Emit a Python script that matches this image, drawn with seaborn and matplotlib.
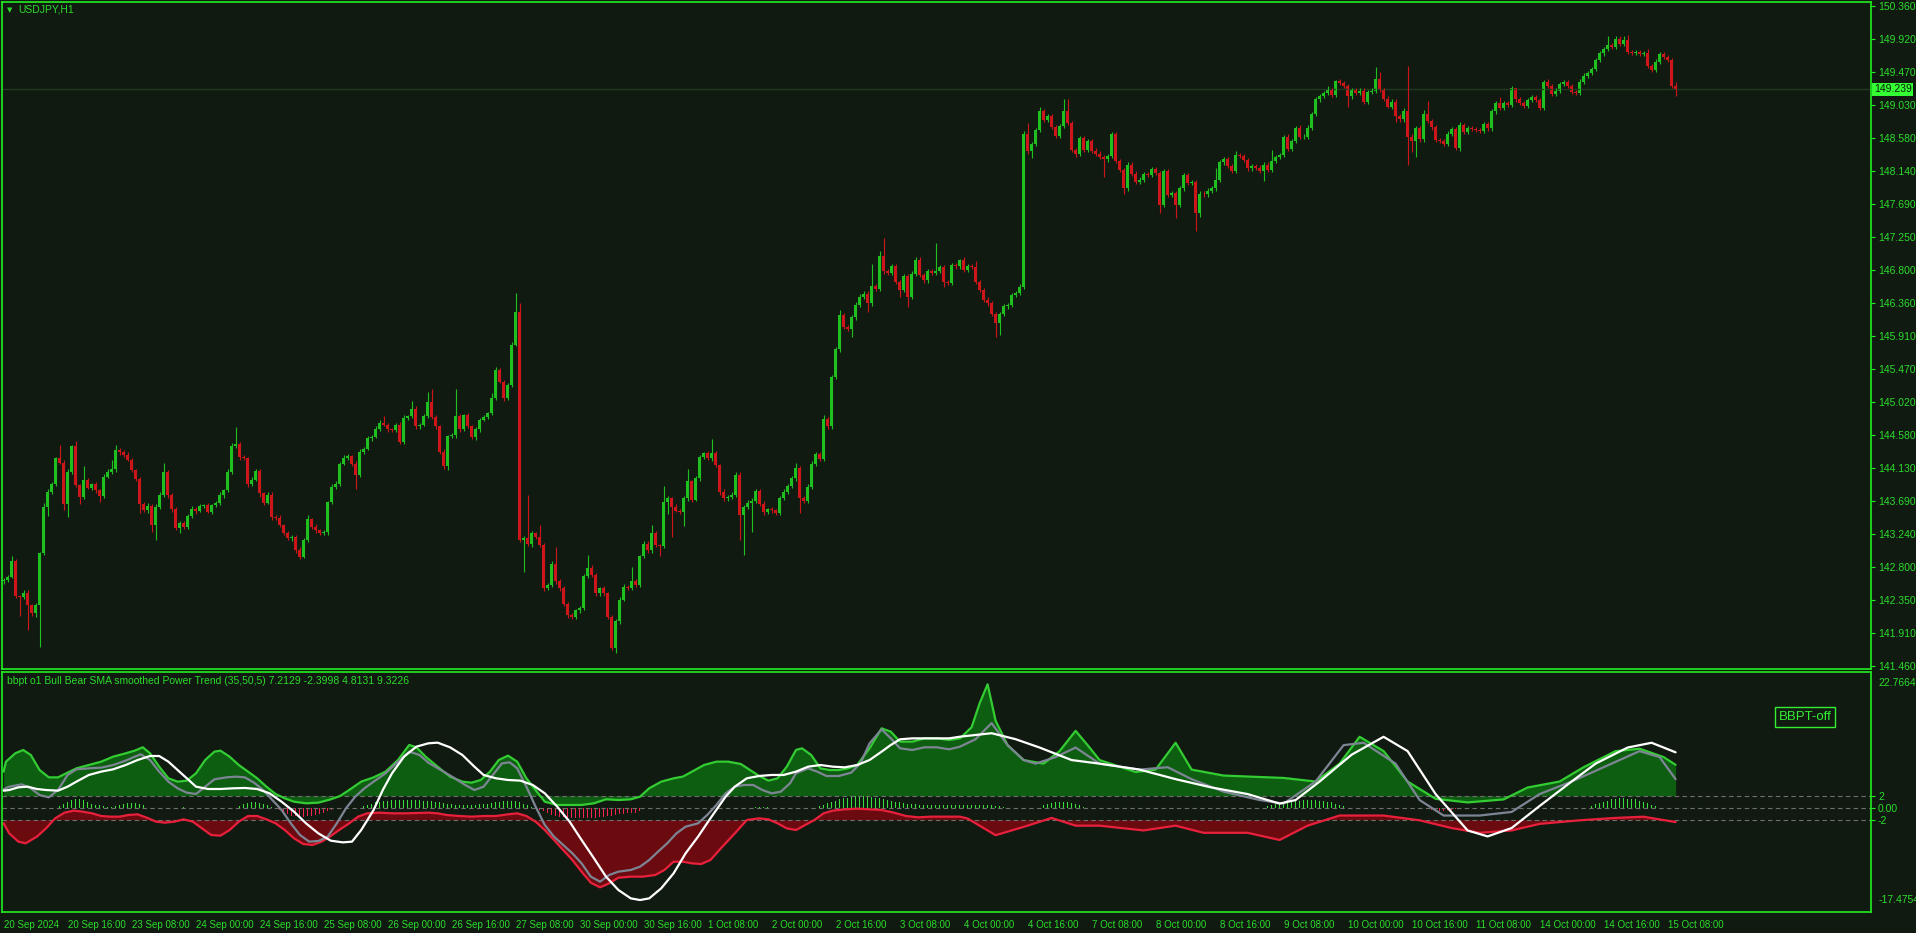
import numpy as np
import pandas as pd
import matplotlib
matplotlib.use("Agg")
import matplotlib.pyplot as plt
import matplotlib.transforms as mtrans
import seaborn as sns

# USDJPY H1 closes, one per bar from 20 Sep 00:00 to 15 Oct 10:00
open0 = 142.60
close = [
    142.62, 142.66, 142.87, 142.40, 142.39, 142.45, 142.28, 142.17, 142.28, 142.98,
    143.61, 143.81, 143.92, 144.26, 144.20, 143.65, 144.08, 144.42, 143.90, 143.74,
    143.97, 143.86, 143.91, 143.83, 143.75, 144.01, 144.08, 144.11, 144.37, 144.35,
    144.31, 144.24, 144.10, 143.98, 143.65, 143.56, 143.62, 143.36, 143.61, 143.77,
    144.07, 143.77, 143.57, 143.32, 143.39, 143.34, 143.48, 143.58, 143.55, 143.62,
    143.63, 143.54, 143.63, 143.66, 143.77, 143.83, 144.08, 144.42, 144.45, 144.28,
    144.26, 143.92, 143.97, 144.09, 143.79, 143.66, 143.77, 143.47, 143.46, 143.36,
    143.25, 143.18, 143.20, 143.03, 142.93, 143.16, 143.44, 143.34, 143.29, 143.25,
    143.26, 143.67, 143.88, 143.92, 144.19, 144.27, 144.29, 144.19, 144.04, 144.35,
    144.39, 144.53, 144.55, 144.66, 144.74, 144.71, 144.65, 144.64, 144.71, 144.48,
    144.81, 144.83, 144.93, 144.69, 144.71, 144.83, 145.02, 144.82, 144.69, 144.35,
    144.15, 144.56, 144.57, 144.83, 144.66, 144.84, 144.69, 144.55, 144.65, 144.78,
    144.82, 144.87, 145.07, 145.45, 145.29, 145.07, 145.25, 145.79, 146.24, 143.16,
    143.18, 143.11, 143.25, 143.20, 143.09, 142.51, 142.55, 142.84, 142.60, 142.51,
    142.30, 142.15, 142.12, 142.21, 142.24, 142.67, 142.78, 142.69, 142.44, 142.51,
    142.44, 142.12, 141.70, 142.06, 142.35, 142.53, 142.51, 142.60, 142.55, 142.94,
    143.11, 143.02, 143.25, 143.09, 143.08, 143.67, 143.72, 143.61, 143.55, 143.54,
    143.72, 143.95, 143.70, 143.99, 144.28, 144.33, 144.26, 144.33, 144.17, 143.81,
    143.72, 143.74, 143.77, 144.04, 143.50, 143.61, 143.66, 143.69, 143.82, 143.65,
    143.54, 143.57, 143.56, 143.52, 143.72, 143.81, 143.89, 143.99, 144.13, 143.72,
    143.69, 143.88, 144.18, 144.32, 144.25, 144.79, 144.69, 145.36, 145.73, 146.19,
    146.03, 146.01, 146.16, 146.33, 146.44, 146.48, 146.35, 146.58, 146.55, 146.99,
    146.78, 146.76, 146.85, 146.64, 146.53, 146.72, 146.44, 146.75, 146.93, 146.73,
    146.66, 146.78, 146.76, 146.79, 146.84, 146.64, 146.63, 146.87, 146.85, 146.94,
    146.80, 146.85, 146.84, 146.64, 146.53, 146.40, 146.35, 146.21, 146.08, 146.21,
    146.31, 146.33, 146.46, 146.49, 146.57, 148.63, 148.40, 148.50, 148.69, 148.94,
    148.82, 148.87, 148.73, 148.61, 148.74, 148.94, 148.78, 148.42, 148.37, 148.58,
    148.42, 148.54, 148.41, 148.37, 148.32, 148.29, 148.34, 148.63, 148.27, 148.15,
    147.90, 148.22, 148.10, 147.99, 148.02, 148.09, 148.08, 148.16, 148.11, 147.68,
    148.13, 147.81, 147.84, 147.68, 147.90, 148.08, 147.97, 147.99, 147.57, 147.83,
    147.82, 147.87, 147.90, 148.02, 148.25, 148.30, 148.20, 148.14, 148.35, 148.34,
    148.28, 148.17, 148.20, 148.18, 148.13, 148.22, 148.15, 148.27, 148.32, 148.35,
    148.60, 148.43, 148.54, 148.71, 148.59, 148.60, 148.72, 148.90, 149.10, 149.15,
    149.19, 149.23, 149.16, 149.35, 149.32, 149.28, 149.14, 149.23, 149.19, 149.22,
    149.07, 149.20, 149.22, 149.38, 149.23, 149.11, 149.00, 149.07, 148.87, 148.83,
    148.95, 148.60, 148.54, 148.71, 148.56, 148.91, 148.81, 148.73, 148.55, 148.54,
    148.50, 148.64, 148.70, 148.44, 148.75, 148.66, 148.71, 148.70, 148.69, 148.68,
    148.77, 148.71, 148.94, 149.05, 148.99, 149.05, 149.03, 149.25, 149.10, 149.05,
    149.01, 149.09, 149.13, 149.09, 148.99, 149.34, 149.28, 149.18, 149.22, 149.31,
    149.33, 149.28, 149.20, 149.19, 149.34, 149.42, 149.46, 149.51, 149.63, 149.72,
    149.78, 149.83, 149.81, 149.92, 149.85, 149.90, 149.74, 149.73, 149.74, 149.71,
    149.72, 149.55, 149.50, 149.61, 149.71, 149.67, 149.63, 149.28, 149.239,
]
# wick lengths above / below the body, in pips (0.01)
wick_up = [
    3, 2, 7, 3, 2, 3, 4, 2, 3, 2, 5, 3, 2, 2, 18, 4, 3, 2, 7, 2,
    18, 3, 2, 3, 2, 4, 3, 13, 7, 3, 2, 3, 3, 2, 3, 2, 4, 3, 4, 3,
    13, 3, 2, 4, 3, 2, 3, 4, 2, 3, 2, 3, 2, 3, 4, 2, 3, 5, 23, 3,
    3, 2, 4, 3, 3, 2, 3, 4, 2, 3, 2, 3, 3, 2, 4, 3, 5, 2, 3, 2,
    3, 2, 3, 3, 2, 4, 3, 2, 3, 4, 2, 3, 2, 3, 4, 9, 3, 2, 3, 4,
    3, 2, 10, 3, 2, 3, 13, 17, 3, 2, 3, 2, 3, 37, 3, 2, 3, 2, 3, 2,
    3, 2, 7, 4, 3, 2, 3, 4, 25, 11, 3, 58, 3, 2, 16, 3, 3, 4, 22, 3,
    3, 2, 3, 2, 3, 3, 17, 4, 3, 2, 3, 2, 3, 3, 4, 3, 2, 20, 3, 2,
    3, 3, 11, 3, 2, 22, 3, 2, 3, 2, 3, 17, 2, 3, 3, 2, 3, 19, 3, 2,
    3, 2, 3, 3, 3, 2, 4, 3, 3, 3, 3, 2, 3, 2, 3, 3, 2, 3, 7, 3,
    3, 3, 4, 3, 2, 6, 3, 3, 3, 7, 3, 3, 3, 4, 3, 3, 3, 30, 3, 6,
    24, 3, 3, 3, 3, 3, 3, 3, 4, 4, 3, 3, 3, 38, 3, 3, 3, 3, 3, 1,
    3, 3, 3, 8, 3, 3, 3, 3, 3, 3, 3, 3, 3, 3, 4, 4, 15, 3, 3, 6,
    3, 3, 4, 3, 3, 17, 17, 3, 3, 3, 3, 3, 3, 3, 3, 3, 3, 3, 3, 3,
    3, 3, 3, 3, 3, 3, 3, 3, 3, 3, 3, 3, 3, 3, 3, 3, 3, 3, 3, 3,
    3, 3, 3, 15, 3, 3, 3, 3, 6, 3, 3, 3, 3, 3, 3, 3, 3, 15, 3, 3,
    2, 3, 3, 3, 5, 3, 3, 3, 3, 3, 3, 5, 3, 1, 3, 3, 3, 3, 3, 3,
    3, 3, 3, 16, 9, 3, 3, 3, 3, 3, 3, 60, 3, 3, 3, 5, 17, 3, 3, 3,
    3, 3, 3, 3, 4, 3, 3, 3, 3, 3, 3, 3, 3, 3, 8, 3, 3, 3, 1, 3,
    3, 3, 3, 3, 3, 2, 3, 3, 3, 3, 3, 3, 3, 3, 3, 3, 3, 3, 3, 3,
    3, 12, 3, 4, 3, 5, 7, 3, 3, 3, 3, 6, 3, 3, 3, 3, 3, 3, 5,
]
wick_dn = [
    4, 3, 2, 3, 26, 3, 34, 3, 5, 56, 3, 13, 3, 3, 2, 9, 18, 3, 3, 9,
    3, 2, 3, 4, 8, 3, 2, 3, 3, 4, 3, 2, 3, 3, 13, 3, 4, 9, 20, 3,
    3, 4, 3, 3, 7, 3, 3, 2, 4, 2, 3, 2, 3, 2, 3, 4, 2, 3, 2, 4,
    2, 4, 3, 2, 5, 3, 2, 4, 3, 3, 3, 2, 3, 4, 3, 2, 3, 3, 4, 2,
    2, 3, 2, 3, 3, 2, 3, 4, 19, 3, 3, 2, 3, 2, 3, 2, 3, 3, 2, 3,
    2, 3, 3, 4, 3, 2, 3, 3, 4, 3, 3, 5, 2, 3, 4, 3, 2, 3, 4, 3,
    2, 3, 3, 3, 2, 4, 3, 3, 2, 3, 43, 3, 4, 3, 3, 4, 3, 2, 3, 4,
    3, 4, 3, 2, 3, 3, 2, 3, 4, 3, 3, 3, 3, 7, 3, 2, 3, 3, 2, 3,
    3, 3, 3, 3, 14, 3, 16, 41, 2, 3, 19, 3, 3, 2, 3, 3, 2, 3, 3, 4,
    3, 4, 3, 3, 34, 54, 3, 40, 3, 3, 5, 3, 4, 3, 3, 2, 3, 3, 3, 20,
    3, 3, 3, 3, 3, 3, 3, 3, 3, 3, 3, 3, 11, 3, 3, 3, 11, 3, 3, 3,
    3, 3, 3, 3, 9, 3, 14, 3, 3, 3, 3, 3, 3, 3, 3, 7, 3, 3, 3, 3,
    3, 3, 3, 3, 3, 3, 3, 3, 18, 16, 3, 3, 3, 3, 3, 3, 3, 9, 3, 3,
    3, 3, 3, 3, 3, 3, 3, 3, 4, 3, 3, 3, 3, 3, 3, 23, 3, 3, 3, 3,
    7, 3, 3, 3, 3, 3, 3, 3, 3, 11, 3, 3, 3, 18, 3, 3, 3, 3, 24, 5,
    3, 3, 3, 3, 3, 3, 3, 3, 3, 3, 3, 3, 3, 3, 2, 13, 3, 3, 3, 3,
    3, 3, 3, 3, 3, 3, 3, 3, 3, 3, 3, 3, 3, 3, 3, 3, 14, 3, 3, 3,
    3, 3, 3, 3, 3, 3, 1, 3, 8, 3, 3, 38, 15, 21, 3, 3, 3, 4, 3, 3,
    3, 3, 3, 2, 4, 3, 3, 3, 3, 3, 3, 3, 3, 3, 3, 3, 3, 3, 3, 3,
    3, 3, 3, 3, 3, 3, 3, 3, 3, 3, 3, 3, 3, 3, 3, 3, 3, 3, 3, 3,
    3, 3, 3, 3, 3, 3, 3, 3, 3, 3, 3, 3, 3, 3, 3, 3, 3, 3, 9,
]

# indicator buffers: (bar index, value)
bull_pts = [(0, 6.06), (0.6, 7.73), (2.9, 9.13), (4.9, 9.69), (6.8, 8.85), (9.0, 6.33), (11.3, 5.10),
            (13.6, 5.10), (16.0, 5.89), (18.2, 6.61), (21.3, 7.17), (24.4, 7.73), (27.4, 8.57),
            (30.5, 9.13), (32.8, 9.58), (34.8, 10.14), (36.6, 9.13), (38.9, 6.89), (41.2, 4.94),
            (43.5, 4.38), (45.8, 4.55), (48.1, 5.78), (50.4, 8.01), (52.7, 9.41), (54.2, 9.58),
            (56.5, 8.57), (58.8, 7.17), (61.1, 6.06), (63.4, 4.94), (65.7, 3.54), (68.0, 2.31),
            (70.3, 1.58), (72.6, 1.02), (75.6, 0.75), (78.7, 0.86), (81.8, 1.42), (84.1, 1.97),
            (86.4, 2.98), (89.4, 4.38), (92.5, 5.10), (95.5, 6.06), (98.6, 8.01), (101.4, 10.53),
            (103.2, 10.14), (105.5, 8.57), (108.5, 6.89), (111.6, 5.22), (114.7, 4.38), (117.0, 4.21),
            (119.3, 4.66), (121.6, 6.06), (123.8, 8.01), (126.1, 8.74), (128.4, 7.73), (130.7, 4.94),
            (133.0, 2.98), (135.3, 1.02), (138.4, 0.47), (144.5, 0.47), (147.6, 0.75), (150.6, 1.42),
            (153.7, 1.30), (156.8, 1.42), (159.1, 1.86), (161.4, 3.26), (164.4, 4.38), (167.5, 4.94),
            (169.8, 5.22), (172.1, 6.06), (175.1, 7.17), (178.2, 7.73), (181.2, 7.73), (184.3, 7.34),
            (186.6, 6.33), (188.9, 5.33), (191.2, 4.55), (193.5, 4.94), (195.8, 6.89), (198.1, 9.69),
            (199.6, 9.97), (201.9, 8.85), (204.2, 6.61), (206.5, 6.33), (208.8, 6.33), (211.1, 6.61),
            (213.4, 7.17), (216.5, 9.97), (219.5, 13.32), (221.8, 12.76), (224.1, 11.09), (227.2, 11.09),
            (230.2, 11.64), (233.3, 11.64), (236.4, 11.37), (239.1, 11.64), (242, 13.5), (244, 17.5),
            (246, 20.7), (248, 14.6), (251, 10.5), (255, 8.0), (260, 7.4), (264, 9.5), (268, 12.9),
            (271, 10.5), (274, 8.0), (283, 6.0), (288, 6.4), (293, 10.9), (297, 6.4), (305, 5.4),
            (320, 5.0), (328, 4.4), (334, 7.4), (339, 11.9), (345, 9.5), (351, 4.4), (358, 1.5),
            (366, 0.9), (375, 1.4), (381, 3.4), (389, 4.4), (395, 6.8), (403, 9.5), (409, 9.9),
            (415, 8.5), (418, 7.2)]
bear_pts = [(0, -2.61), (1.4, -4.29), (3.7, -5.68), (5.5, -5.96), (8.3, -4.85), (10.6, -3.45),
            (12.9, -1.77), (15.2, -0.82), (17.5, -0.48), (19.8, -0.65), (22.1, -0.93), (24.4, -1.38),
            (26.7, -1.49), (29.0, -1.49), (31.2, -1.21), (33.5, -1.10), (35.8, -1.66), (38.1, -2.33),
            (40.4, -2.50), (42.7, -2.33), (45.0, -1.94), (47.3, -2.33), (49.6, -3.45), (51.9, -4.57),
            (54.2, -4.68), (56.5, -3.73), (58.8, -2.33), (61.1, -1.38), (63.4, -1.38), (65.7, -1.94),
            (68.0, -2.61), (70.3, -3.73), (72.6, -5.12), (74.9, -6.07), (77.2, -6.24), (79.5, -5.68),
            (81.8, -4.73), (84.1, -3.62), (86.4, -2.61), (88.6, -1.49), (90.9, -0.93), (94.0, -0.82),
            (97.1, -0.93), (100.1, -0.93), (103.2, -0.88), (106.2, -0.82), (108.5, -0.93),
            (110.8, -1.21), (113.9, -1.38), (117.0, -1.49), (120.0, -1.38), (123.1, -1.38),
            (126.1, -1.10), (128.4, -0.93), (130.7, -1.38), (133.0, -2.33), (135.3, -3.73),
            (137.6, -5.40), (139.9, -7.08), (142.2, -8.76), (144.5, -10.71), (146.8, -12.56),
            (149.1, -13.34), (151.4, -12.67), (153.7, -11.72), (156.8, -11.55), (159.8, -11.55),
            (162.9, -11.27), (165.2, -10.43), (167.5, -9.04), (169.8, -9.04), (172.1, -9.32),
            (174.4, -9.43), (176.7, -8.76), (179.7, -6.52), (182.8, -4.29), (185.8, -2.05),
            (188.9, -1.77), (191.2, -1.94), (193.5, -2.61), (195.8, -3.45), (198.1, -3.73),
            (200.4, -2.89), (202.7, -2.05), (205.0, -0.93), (207.3, -0.48), (210.3, -0.26),
            (213.4, -0.15), (216.5, -0.26), (219.5, -0.37), (222.6, -0.82), (225.6, -1.38),
            (228.7, -1.60), (231.8, -1.49), (234.8, -1.49), (239.1, -1.49), (241, -1.8), (248, -4.6),
            (256, -3.0), (262, -1.7), (268, -3.0), (274, -3.0), (285, -3.8), (293, -3.0), (300, -4.2),
            (311, -4.2), (319, -5.4), (326, -3.0), (334, -1.3), (345, -1.3), (354, -2.1), (362, -3.4),
            (369, -4.2), (377, -3.8), (384, -2.7), (394, -2.1), (403, -1.7), (410, -1.5), (418, -2.4)]
white_pts = [(0, 2.87), (1.4, 2.98), (3.7, 3.43), (6.0, 3.54), (8.3, 3.15), (10.6, 2.98), (13.6, 2.87),
             (16.0, 3.54), (18.2, 4.38), (21.3, 5.50), (24.4, 6.06), (27.4, 6.45), (30.5, 7.17),
             (33.5, 8.01), (36.6, 8.68), (38.9, 8.68), (41.2, 7.73), (43.5, 6.33), (45.8, 4.94),
             (48.1, 3.54), (51.1, 3.15), (54.2, 3.15), (57.3, 3.26), (60.3, 3.32), (63.4, 3.15),
             (66.5, 2.42), (69.5, 1.02), (72.6, -0.65), (75.6, -2.61), (78.7, -4.29), (81.8, -5.52),
             (84.8, -5.80), (87.1, -5.68), (89.4, -3.73), (92.5, -0.37), (94.8, 2.98), (97.1, 5.78),
             (100.1, 8.57), (103.2, 10.25), (106.2, 10.81), (108.5, 10.92), (111.6, 10.14),
             (114.7, 8.85), (117.7, 6.89), (120.0, 5.50), (123.1, 4.94), (126.1, 4.66), (129.2, 4.55),
             (132.3, 3.82), (135.3, 2.42), (138.4, 0.19), (141.5, -2.33), (144.5, -5.40),
             (147.6, -8.48), (150.6, -11.55), (153.7, -13.79), (156.8, -15.19), (159.1, -15.47),
             (161.4, -15.19), (164.4, -13.51), (167.5, -10.99), (170.5, -7.64), (173.6, -4.85),
             (176.7, -1.77), (180.5, 1.86), (182.8, 3.54), (185.8, 4.94), (188.9, 5.33), (192.0, 5.50),
             (195.0, 5.50), (198.1, 6.06), (201.1, 6.89), (204.2, 7.17), (207.3, 6.89), (210.3, 6.78),
             (213.4, 7.17), (216.5, 8.01), (219.5, 9.41), (221.8, 10.53), (224.1, 11.48),
             (227.2, 11.64), (230.2, 11.64), (233.3, 11.64), (236.4, 11.64), (239.1, 11.92),
             (247, 12.5), (253, 11.5), (259, 10.1), (267, 8.0), (274, 7.4), (284, 6.4), (293, 4.8),
             (302, 3.4), (311, 2.3), (319, 0.7), (323, 1.3), (329, 4.4), (337, 8.9), (345, 11.9),
             (351, 9.5), (358, 2.3), (366, -3.8), (371, -4.8), (377, -3.4), (384, 0.3), (392, 4.4),
             (398, 7.4), (406, 10.1), (412, 10.9), (418, 9.3)]
gray_pts = [(0, 3.09), (1.4, 3.54), (4.5, 3.93), (6.8, 3.26), (9.0, 2.14), (11.3, 1.75), (13.6, 2.98),
            (16.0, 5.50), (18.2, 6.45), (21.3, 6.61), (24.4, 6.73), (27.4, 7.17), (30.5, 7.90),
            (32.8, 8.57), (34.3, 8.96), (36.6, 8.01), (38.9, 6.06), (41.2, 4.38), (43.5, 3.26),
            (45.8, 2.53), (48.1, 2.31), (50.4, 3.54), (52.7, 4.77), (55.7, 5.10), (58.0, 5.22),
            (60.3, 5.10), (62.6, 4.21), (64.9, 2.98), (67.2, 1.30), (69.5, -0.37), (71.8, -2.61),
            (74.1, -4.57), (76.4, -5.68), (78.7, -5.57), (81.0, -4.85), (83.3, -2.61), (85.6, -0.09),
            (87.9, 1.86), (90.2, 3.26), (92.5, 4.38), (95.5, 5.78), (98.6, 7.73), (101.4, 9.41),
            (104.0, 8.85), (106.2, 7.56), (109.3, 6.33), (112.4, 5.10), (115.4, 3.82), (117.7, 2.98),
            (120.0, 3.54), (122.3, 5.50), (124.6, 7.45), (126.5, 7.62), (128.4, 6.61), (130.7, 3.54),
            (133.0, 0.19), (135.3, -2.89), (137.6, -4.85), (139.9, -6.24), (142.2, -7.64),
            (144.5, -9.32), (146.8, -11.55), (149.1, -12.39), (151.4, -11.27), (153.7, -10.71),
            (156.8, -10.43), (159.1, -9.88), (161.4, -8.76), (163.6, -7.36), (165.9, -5.96),
            (168.2, -4.29), (170.5, -3.17), (173.6, -2.61), (175.9, -1.21), (178.2, 0.47), (180.5, 2.42),
            (182.8, 3.54), (185.1, 3.82), (187.4, 3.82), (189.7, 2.98), (192.0, 2.42), (194.3, 2.70),
            (196.6, 4.10), (198.1, 5.78), (201.1, 6.61), (203.4, 6.06), (205.7, 5.33), (208.8, 5.33),
            (211.9, 5.89), (214.2, 7.45), (216.5, 10.81), (219.5, 13.15), (221.8, 11.64), (224.1, 9.97),
            (227.2, 9.69), (230.2, 10.14), (233.3, 10.14), (236.4, 9.80), (239.1, 10.25), (243, 11.5),
            (247, 14.2), (251, 10.5), (255, 8.0), (258, 7.4), (263, 8.5), (268, 10.1), (274, 7.4),
            (284, 6.4), (291, 6.8), (297, 4.8), (305, 2.7), (314, 1.3), (320, 0.7), (328, 4.4),
            (335, 10.5), (340, 10.9), (348, 7.4), (354, 1.3), (360, -1.3), (369, -1.3), (377, -0.7),
            (384, 2.3), (392, 4.4), (400, 6.8), (409, 9.5), (414, 8.5), (418, 4.8)]
# histogram, one value per bar
hist = [
    0, 0, 0, 0, 0, 0, 0, 0, 0, 0, 0, 0, 0, 0, 0.3, 0.7, 1.0, 1.3, 1.5, 1.5,
    1.3, 1.0, 0.7, 0.5, 0.4, 0.3, 0.2, 0.2, 0.3, 0.5, 0.7, 0.8, 0.8, 0.8, 0.7, 0.5, 0, 0, 0, 0,
    0, 0, 0, 0, 0, 0.2, 0, 0, 0, 0, 0, 0, 0, 0, 0, 0, 0, 0, 0, 0.3,
    0.6, 0.8, 0.9, 0.9, 0.8, 0.6, 0.4, 0.2, 0, -0.4, -0.8, -1.1, -1.3, -1.4, -1.5, -1.5, -1.4, -1.3, -1.2, -1.0,
    -0.8, -0.6, -0.3, 0, 0, 0, 0, 0, 0, 0, 0.3, 0.5, 0.7, 0.9, 1.0, 1.1, 1.2, 1.3, 1.3, 1.3,
    1.3, 1.3, 1.3, 1.3, 1.3, 1.2, 1.2, 1.1, 1.0, 0.9, 0.8, 0.7, 0.6, 0.5, 0.5, 0.5, 0.5, 0.5, 0.5, 0.6,
    0.6, 0.7, 0.8, 0.9, 1.0, 1.1, 1.2, 1.2, 1.1, 1.0, 0.7, 0.4, 0.2, 0, -0.3, -0.6, -0.9, -1.2, -1.4, -1.5,
    -1.6, -1.7, -1.7, -1.7, -1.7, -1.7, -1.7, -1.7, -1.7, -1.6, -1.5, -1.4, -1.3, -1.2, -1.1, -1.0, -0.9, -0.9, -0.8, -0.6,
    0, 0, 0, 0, 0, 0, 0, 0, 0, 0, 0, 0, 0, 0, 0, 0, 0, 0, 0, 0,
    0, 0, 0, 0, 0, 0, 0, 0, 0.2, 0.2, 0.2, 0.2, 0, 0, 0, 0, 0, 0, 0, 0,
    0, 0, 0, 0, 0.3, 0.5, 0.8, 1.0, 1.2, 1.4, 1.6, 1.7, 1.8, 1.9, 1.9, 1.9, 1.8, 1.8, 1.7, 1.6,
    1.5, 1.3, 1.1, 1.0, 0.9, 0.8, 0.7, 0.6, 0.6, 0.5, 0.5, 0.5, 0.5, 0.5, 0.5, 0.5, 0.5, 0.5, 0.5, 0.5,
    0.5, 0.5, 0.4, 0.4, 0.5, 0.5, 0.5, 0.4, 0.3, 0.3, 0.2, 0, 0, 0, 0, 0, 0, 0, 0, 0,
    0.4, 0.6, 0.8, 0.9, 1.0, 1.0, 0.9, 0.8, 0.6, 0.4, 0.2, 0, 0, 0, 0, 0, 0, 0, 0, 0,
    0, 0, 0, 0, 0, 0, 0, 0, 0, 0, 0, 0, 0, 0, 0, 0, 0, 0, 0, 0,
    0, 0, 0, 0, 0, 0, 0, 0, 0, 0,
    0, 0, 0, 0, 0, 0, 0.3, 0.5, 0.7, 0.8, 0.9, 1.0, 1.1, 1.2, 1.2, 1.3, 1.3, 1.3, 1.3, 1.2,
    1.1, 1.0, 0.9, 0.7, 0.5, 0.3, 0, 0, 0, 0, 0, 0, 0, 0, 0, 0, 0, 0, 0, 0,
    0, 0, 0, 0, 0, 0, -0.2, -0.3, -0.4, -0.5, -0.5, -0.4, -0.3, -0.2, 0, 0, 0, 0, 0, 0,
    0, 0, 0, 0, 0, 0, 0, 0, 0, 0, 0, 0, 0, 0, 0, 0, 0, 0, 0, 0,
    0, 0, 0, 0, 0, 0, 0, 0.3, 0.6, 0.8, 1.0, 1.2, 1.4, 1.5, 1.6, 1.6, 1.5, 1.5, 1.4, 1.2,
    1.0, 0.8, 0.5, 0.3, 0, 0, 0, 0, 0,
]

time_labels = ["20 Sep 2024", "20 Sep 16:00", "23 Sep 08:00", "24 Sep 00:00", "24 Sep 16:00",
               "25 Sep 08:00", "26 Sep 00:00", "26 Sep 16:00", "27 Sep 08:00", "30 Sep 00:00",
               "30 Sep 16:00", "1 Oct 08:00", "2 Oct 00:00", "2 Oct 16:00", "3 Oct 08:00",
               "4 Oct 00:00", "4 Oct 16:00", "7 Oct 08:00", "8 Oct 00:00", "8 Oct 16:00",
               "9 Oct 08:00", "10 Oct 00:00", "10 Oct 16:00", "11 Oct 08:00", "14 Oct 00:00",
               "14 Oct 16:00", "15 Oct 08:00"]
price_ticks = [150.360, 149.920, 149.470, 149.030, 148.580, 148.140, 147.690, 147.250, 146.800,
               146.360, 145.910, 145.470, 145.020, 144.580, 144.130, 143.690, 143.240, 142.800,
               142.350, 141.910, 141.460]
last_price = 149.239

BG = "#111a11"
FRAME = "#22ee22"
TXT = "#2bdc2b"
UP = "#1fbf1f"
DOWN = "#cc161a"

sns.set_style("dark", {"axes.facecolor": BG, "figure.facecolor": BG})
plt.rcParams["font.family"] = ["Liberation Sans", "DejaVu Sans"]

df = pd.DataFrame({"bar": np.arange(len(close)), "open": [open0] + close[:-1], "close": close,
                   "up": wick_up, "dn": wick_dn})
df["hist"] = pd.Series(hist).reindex(df.index).fillna(0)
df["top"] = df[["open", "close"]].max(axis=1)
df["bot"] = df[["open", "close"]].min(axis=1)
df["high"] = df["top"] + df["up"] / 100
df["low"] = df["bot"] - df["dn"] / 100
cols = np.where(df["close"] >= df["open"], UP, DOWN)

bull_df = pd.DataFrame(bull_pts, columns=["bar", "v"])
bear_df = pd.DataFrame(bear_pts, columns=["bar", "v"])
white_df = pd.DataFrame(white_pts, columns=["bar", "v"])
gray_df = pd.DataFrame(gray_pts, columns=["bar", "v"])

W, H = 1916, 933
fig = plt.figure(figsize=(W / 100, H / 100), dpi=100)
ax = fig.add_axes([2 / W, 1 - 669 / H, 1869 / W, 667 / H])
ax2 = fig.add_axes([2 / W, 1 - 912 / H, 1869 / W, 240 / H])

# price panel
ax.axhline(last_price, color="#1f3a1f", lw=1)
ax.vlines(df["bar"], df["low"], df["high"], colors=cols, lw=0.8)
ax.bar(df["bar"], (df["top"] - df["bot"]).clip(lower=0.008), bottom=df["bot"], width=0.72,
       color=cols, linewidth=0)
ax.set_xlim(-0.4, 466.85)
ax.set_ylim(141.419, 150.414)
ax.set_xticks([])
ax.yaxis.tick_right()
ax.set_yticks(price_ticks)
ax.set_yticklabels([f"{p:.3f}" for p in price_ticks])
ax.tick_params(axis="y", direction="out", length=3, width=0.8, colors=FRAME, labelcolor=TXT,
               labelsize=7.5, pad=2)
ax.text(1.0015, last_price, f"{last_price:.3f}",
        transform=mtrans.blended_transform_factory(ax.transAxes, ax.transData),
        ha="left", va="center", fontsize=7.5, color="#0b1a0b",
        bbox=dict(boxstyle="square,pad=0.15", fc="#33ff33", ec="none"))

# indicator panel
ax2.fill_between(bull_df["bar"], bull_df["v"], 2, color="#0e5e12", lw=0)
ax2.fill_between(bear_df["bar"], bear_df["v"], -2, color="#6b0b10", lw=0)
hcols = np.where(df["hist"] >= 0, "#3ae03a", "#ff2050")
ax2.bar(df["bar"], df["hist"], width=0.25, color=hcols, linewidth=0, antialiased=False)
for lev in (2, 0, -2):
    ax2.axhline(lev, color="#6e6e6e", lw=0.8, ls=(0, (4, 3)))
sns.lineplot(data=bull_df, x="bar", y="v", ax=ax2, color="#33cc33", lw=1.6, sort=False)
sns.lineplot(data=bear_df, x="bar", y="v", ax=ax2, color="#e8203c", lw=1.6, sort=False)
sns.lineplot(data=gray_df, x="bar", y="v", ax=ax2, color="#7d8594", lw=1.6, sort=False)
sns.lineplot(data=white_df, x="bar", y="v", ax=ax2, color="white", lw=1.6, sort=False)
ax2.set_xlim(-0.4, 466.85)
ax2.set_ylim(-17.4754, 22.7664)
ax2.set_xlabel("")
ax2.set_ylabel("")
ax.set_ylabel("")
ax2.yaxis.tick_right()
ax2.set_yticks([2, 0, -2])
ax2.set_yticklabels(["2", "0.00", "-2"])
ax2.tick_params(axis="y", direction="out", length=3, width=0.8, colors=FRAME, labelcolor=TXT,
                labelsize=7.5, pad=2)
ax2.text(1.004, 0.975, "22.7664", transform=ax2.transAxes, ha="left", va="top", fontsize=7.5, color=TXT)
ax2.text(1.004, 0.03, "-17.4754", transform=ax2.transAxes, ha="left", va="bottom", fontsize=7.5, color=TXT)
ax2.set_xticks(np.arange(0, 417, 16))
ax2.set_xticklabels(time_labels, ha="left")
ax2.tick_params(axis="x", direction="out", length=4, width=0.8, colors=FRAME, labelcolor=TXT,
                labelsize=7, pad=2)

for a in (ax, ax2):
    for s in a.spines.values():
        s.set_color(FRAME)
        s.set_linewidth(1.2)
    a.grid(False)

fig.text(7 / W, 1 - 681 / H, "bbpt o1 Bull Bear SMA smoothed Power Trend (35,50,5) 7.2129 -2.3998 4.8131 9.3226",
         ha="left", va="center", fontsize=7.5, color=TXT)
fig.text(7 / W, 1 - 10 / H, "\u25bc", ha="left", va="center", fontsize=5, color=TXT, family="DejaVu Sans")
fig.text(18 / W, 1 - 10 / H, "USDJPY,H1", ha="left", va="center", fontsize=7.5, color=TXT)
fig.text(1805 / W, 1 - 717 / H, "BBPT-off", ha="center", va="center", fontsize=9.5, color="#33ee33",
         bbox=dict(boxstyle="square,pad=0.3", fc="none", ec="#33ee33", lw=1))

fig.savefig("out.png", dpi=100, facecolor=BG)
